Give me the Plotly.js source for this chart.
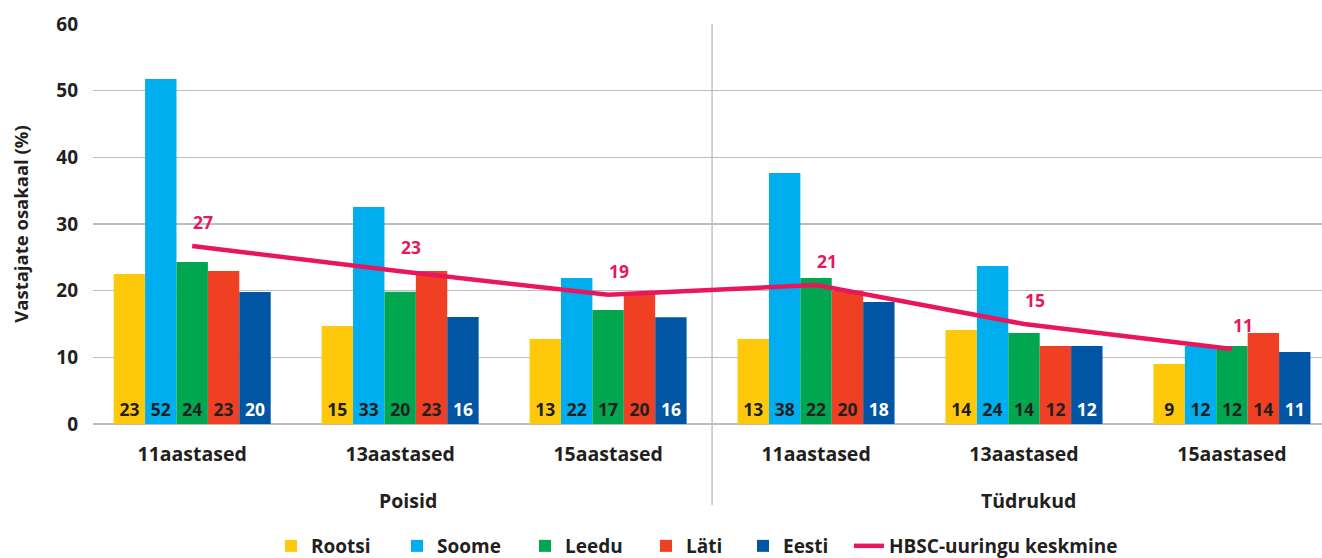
<!DOCTYPE html>
<html>
<head>
<meta charset="utf-8">
<script src="https://cdn.plot.ly/plotly-3.0.1.min.js"></script>
<style>html,body{margin:0;padding:0;background:#fff;}#chart{width:1322px;height:558px;}</style>
</head>
<body>
<div id="chart"></div>
<script>
const groups = ["Poisid", "Poisid", "Poisid", "Tüdrukud", "Tüdrukud", "Tüdrukud"];
const ages = ["11aastased", "13aastased", "15aastased", "11aastased", "13aastased", "15aastased"];
const outerLabels = ["Poisid", "Tüdrukud"];

const rootsi = [22.5, 14.7, 12.75, 12.75, 14.1, 9.0];
const rootsiLabels = ["23", "15", "13", "13", "14", "9"];
const soome = [51.75, 32.55, 21.9, 37.65, 23.7, 11.7];
const soomeLabels = ["52", "33", "22", "38", "24", "12"];
const leedu = [24.3, 19.85, 17.1, 21.9, 13.65, 11.7];
const leeduLabels = ["24", "20", "17", "22", "14", "12"];
const lati = [22.95, 22.95, 19.5, 20.0, 11.7, 13.65];
const latiLabels = ["23", "23", "20", "20", "12", "14"];
const eesti = [19.8, 16.05, 16.0, 18.3, 11.7, 10.8];
const eestiLabels = ["20", "16", "16", "18", "12", "11"];
const hbsc = [26.7, 22.9, 19.4, 20.85, 15.0, 11.25];
const hbscLabels = ["27", "23", "19", "21", "15", "11"];

const yTicks = [0, 10, 20, 30, 40, 50, 60];

const cats = groups.map((g, i) => g + " " + ages[i]);
const FONT = "Open Sans, Noto Sans, sans-serif";
const DARK = "#231F20";
const LFONT = {family: FONT, size: 19.5, color: DARK, weight: "bold"};
const LEGFONT = {family: FONT, size: 19, color: DARK, weight: "bold"};

function barTrace(name, y, labels, color, textColor, legendId) {
  return {
    type: "bar", name: name, x: cats, y: y, legend: legendId,
    marker: {color: color, line: {width: 0}},
    text: labels, texttemplate: "%{text}",
    textposition: "inside", insidetextanchor: "start", textangle: 0,
    constraintext: "none",
    textfont: {family: FONT, size: 17.5, color: textColor, weight: "bold"},
    hoverinfo: "skip"
  };
}

const traces = [
  barTrace("Rootsi", rootsi, rootsiLabels, "#FFC90B", DARK, "legend"),
  barTrace("Soome", soome, soomeLabels, "#00AEEF", DARK, "legend2"),
  barTrace("Leedu", leedu, leeduLabels, "#00A650", DARK, "legend3"),
  barTrace("Läti", lati, latiLabels, "#EF4023", DARK, "legend4"),
  barTrace("Eesti", eesti, eestiLabels, "#0055A5", "#FFFFFF", "legend5"),
  {
    type: "scatter", mode: "lines", name: "HBSC-uuringu keskmine", legend: "legend6",
    x: cats, y: hbsc, line: {color: "#E8175D", width: 4.5}, hoverinfo: "skip"
  }
];

const annotations = hbsc.map((v, i) => ({
  x: cats[i], y: v, xref: "x", yref: "y", text: hbscLabels[i], showarrow: false,
  xshift: 11, yshift: 24,
  font: {family: FONT, size: 17.5, color: "#E8175D", weight: "bold"}
}));
annotations.push({
  x: cats[1], y: -0.19, xref: "x", yref: "paper", text: outerLabels[0], showarrow: false,
  xshift: 8, yanchor: "middle", font: LFONT
});
annotations.push({
  x: cats[4], y: -0.19, xref: "x", yref: "paper", text: outerLabels[1], showarrow: false,
  xshift: 4, yanchor: "middle", font: LFONT
});

// legend left edges in pixels
const legendPx = [271, 397, 525, 646, 743, 849];
const PLOT_L = 93, PLOT_W = 1229;
function legendAt(px) {
  return {
    orientation: "h", x: (px - PLOT_L) / PLOT_W, xanchor: "left", y: -0.305, yanchor: "middle",
    font: LEGFONT, bgcolor: "rgba(0,0,0,0)", borderwidth: 0
  };
}

const layout = {
  width: 1322, height: 558,
  margin: {l: PLOT_L, r: 0, t: 24, b: 134, pad: 0, autoexpand: false},
  paper_bgcolor: "#ffffff", plot_bgcolor: "#ffffff",
  font: {family: FONT, size: 18, color: DARK, weight: "bold"},
  barmode: "group", bargap: 0.245, bargroupgap: 0,
  showlegend: true,
  legend: legendAt(legendPx[0]),
  legend2: legendAt(legendPx[1]),
  legend3: legendAt(legendPx[2]),
  legend4: legendAt(legendPx[3]),
  legend5: legendAt(legendPx[4]),
  legend6: legendAt(legendPx[5]),
  xaxis: {
    type: "category", range: [-0.477, 5.433],
    tickmode: "array", tickvals: cats, ticktext: ages,
    showgrid: false, zeroline: false, showline: false, ticks: "",
    ticklabelstandoff: 16,
    tickfont: LFONT,
    fixedrange: true
  },
  yaxis: {
    range: [0, 60], tickmode: "array", tickvals: yTicks,
    showgrid: true, gridcolor: "#BDBDBD", gridwidth: 1.5,
    zeroline: true, zerolinecolor: "#BDBDBD", zerolinewidth: 2,
    showline: false, ticks: "", ticklabelstandoff: 14,
    tickfont: {family: FONT, size: 19, color: DARK, weight: "bold"},
    title: {text: "Vastajate osakaal (%)", standoff: 22,
            font: {family: FONT, size: 18.5, color: DARK, weight: "bold"}},
    fixedrange: true
  },
  shapes: [{
    type: "line", xref: "x", yref: "paper", x0: 2.5, x1: 2.5, y0: -0.2025, y1: 1,
    line: {color: "#A6A6A6", width: 1}, layer: "below"
  }],
  annotations: annotations
};

Plotly.newPlot("chart", traces, layout, {displayModeBar: false, staticPlot: true});
</script>
</body>
</html>
